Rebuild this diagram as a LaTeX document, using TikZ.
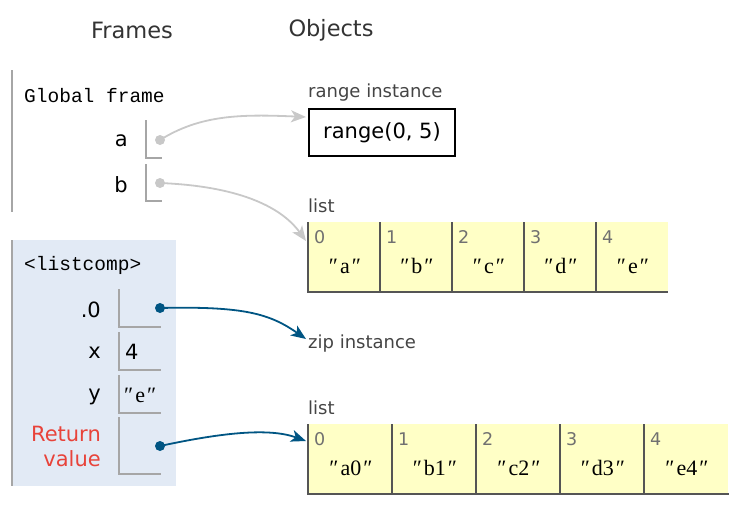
\documentclass[tikz,border=0pt]{standalone}
\usepackage{fontspec}
\setmainfont{DejaVu Sans}
\newfontfamily\strfont{Liberation Serif}
\newfontfamily\codefont{Liberation Mono}
\usetikzlibrary{arrows.meta}
\definecolor{headgray}{HTML}{333333}
\definecolor{labelgray}{HTML}{444444}
\definecolor{idxgray}{HTML}{707070}
\definecolor{framegray}{HTML}{A6A6A6}
\definecolor{cellline}{HTML}{555555}
\definecolor{listfill}{HTML}{FFFFC6}
\definecolor{framefill}{HTML}{E2EAF5}
\definecolor{ptrblue}{HTML}{005583}
\definecolor{ptrgray}{HTML}{C8C8C8}
\definecolor{retred}{HTML}{E8433A}
\newcommand{\pystr}[1]{″\hspace{2pt}#1\hspace{2pt}″}
\tikzset{
    heading/.style={text=headgray, font=\fontsize{22.5}{26}\selectfont, inner sep=0pt},
    objlabel/.style={anchor=west, text=labelgray, font=\fontsize{18}{22}\selectfont, inner sep=0pt},
    varname/.style={anchor=east, font=\fontsize{21}{25}\selectfont, inner sep=0pt},
    framename/.style={anchor=west, font=\fontsize{19.5}{24}\codefont, inner sep=0pt},
    slot/.style={draw=framegray, line width=1.6pt},
    idx/.style={anchor=west, text=idxgray, font=\fontsize{17.5}{20}\selectfont, inner sep=0pt},
    strval/.style={font=\fontsize{22}{26}\strfont, inner sep=0pt},
    dot/.style={circle, fill=#1, minimum size=10pt, inner sep=0pt},
    pointer/.style={line width=1.8pt, -{Stealth[length=15pt, width=12pt, inset=4pt]}},
}

\begin{document}
\begin{tikzpicture}[x=1pt, y=-1pt]
\useasboundingbox (0,0) rectangle (747,507);
\node[heading] (frameshd) at (132,30) {Frames};
\node[heading] (objectshd) at (331,30) {Objects};
% global frame
\draw[framegray, line width=2.5pt] (12,70) -- (12,212);
\node[framename] (globalname) at (24,96) {Global frame};
\node[varname] (aname) at (128,141) {a};
\draw[slot] (146,120) -- (146,158) -- (162,158); % slot a
\node[dot=ptrgray] (adot) at (160,140) {};
\node[varname] (bname) at (128,185) {b};
\draw[slot] (146,164) -- (146,201) -- (162,201); % slot b
\node[dot=ptrgray] (bdot) at (160,183) {};
% listcomp frame
\fill[framefill] (12,240) rectangle (176,486);
\draw[framegray, line width=2.5pt] (12,240) -- (12,486);
\node[framename] (compname) at (24,265) {<listcomp>};
\node[varname] (zeroname) at (101,310) {.0};
\draw[slot] (119,289) -- (119,327) -- (161,327); % slot .0
\node[dot=ptrblue] (zerodot) at (160,308) {};
\node[varname] (xname) at (101,353) {x};
\draw[slot] (119,332) -- (119,370) -- (161,370); % slot x
\node[anchor=west, font=\fontsize{21}{25}\selectfont, inner sep=0pt] (xval) at (125,352) {4};
\node[varname] (yname) at (101,397) {y};
\draw[slot] (119,375) -- (119,413) -- (161,413); % slot y
\node[strval, anchor=west] (yval) at (124,395) {\pystr{e}};
\node[varname, text=retred, align=right, font=\fontsize{21}{25}\selectfont] (retname) at (101,446) {Return\\value};
\draw[slot] (119,417) -- (119,474) -- (161,474); % slot return
\node[dot=ptrblue] (retdot) at (160,446) {};
% range instance
\node[objlabel] (rangelbl) at (308,93) {range instance};
\node[draw=black, line width=2pt, minimum width=146pt, minimum height=47pt, anchor=north west, font=\fontsize{21}{25}\selectfont] (rangebox) at (308,108) {range(0, 5)};
% first list
\node[objlabel] (listlbl) at (308,206) {list};
\foreach \i/\v in {0/a,1/b,2/c,3/d,4/e} {
    \fill[listfill] (308+72*\i,222) rectangle +(72,70);
    \draw[cellline, line width=2pt] (308+72*\i,222) -- (308+72*\i,292);
    \node[idx] (l\i idx) at (314+72*\i,237) {\i};
    \node[strval] (l\i val) at (345+72*\i,266) {\pystr{\v}};
}
\draw[cellline, line width=2.5pt] (307,292) -- (668,292);
% zip instance
\node[objlabel] (ziplbl) at (308,344) {zip instance};
% second list
\node[objlabel] (list2lbl) at (308,408) {list};
\foreach \i/\v in {0/a0,1/b1,2/c2,3/d3,4/e4} {
    \fill[listfill] (308+84*\i,424) rectangle +(84,70);
    \draw[cellline, line width=2pt] (308+84*\i,424) -- (308+84*\i,494);
    \node[idx] (m\i idx) at (314+84*\i,439) {\i};
    \node[strval] (m\i val) at (351+84*\i,468) {\pystr{\v}};
}
\draw[cellline, line width=2.5pt] (307,494) -- (729,494);
% pointers
\coordinate (rangein) at (306,117);
\coordinate (listin) at (306,241);
\coordinate (zipin) at (306,339);
\coordinate (list2in) at (306,441);
\draw[pointer, ptrgray] (adot.center) .. controls (200,115) and (240,114) .. (rangein);
\draw[pointer, ptrgray] (bdot.center) .. controls (235,186) and (280,205) .. (listin);
\draw[pointer, ptrblue] (zerodot.center) .. controls (245,306) and (270,314) .. (zipin);
\draw[pointer, ptrblue] (retdot.center) .. controls (225,432) and (270,428) .. (list2in);
\end{tikzpicture}
\end{document}
